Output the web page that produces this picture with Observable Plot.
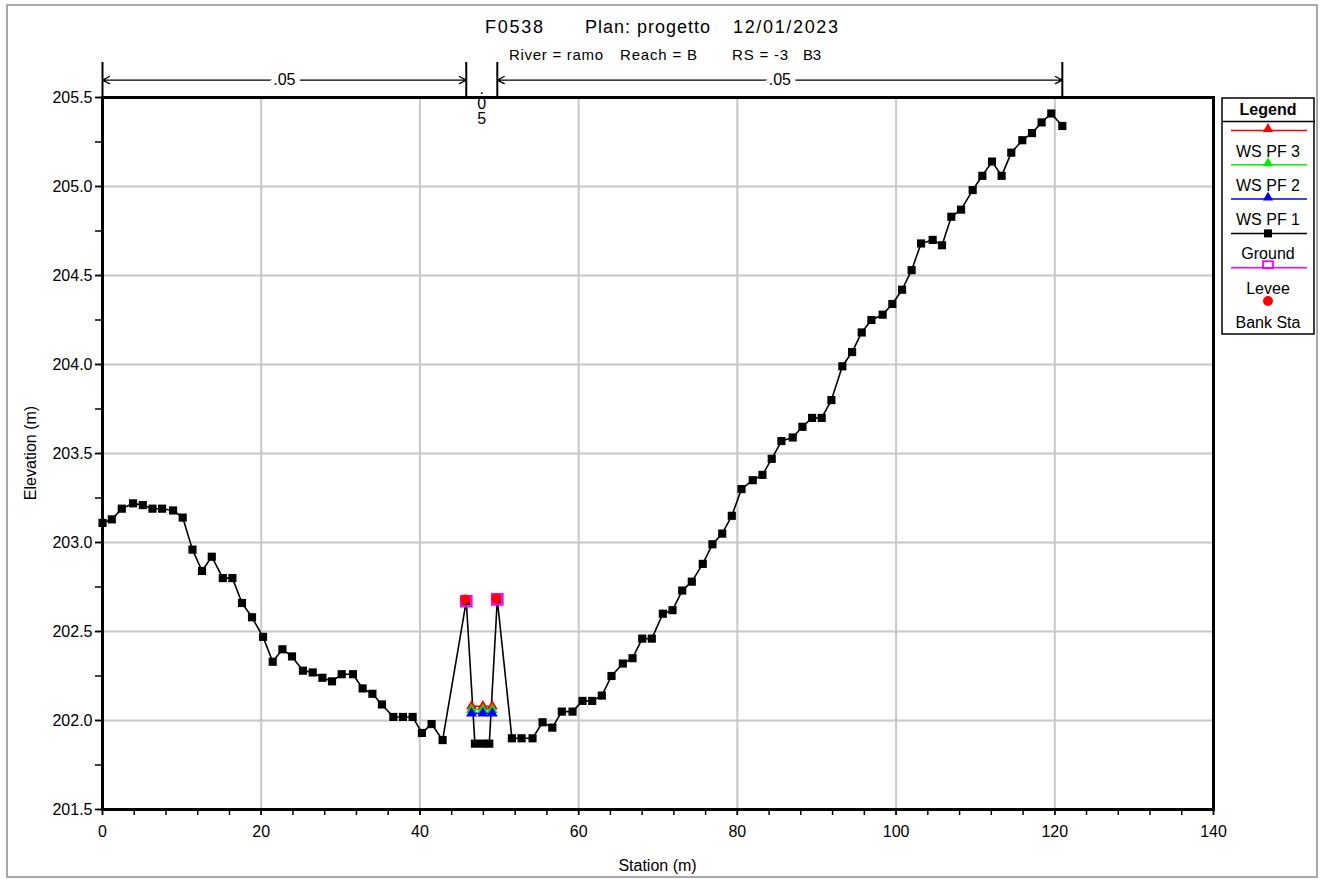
<!DOCTYPE html>
<html><head><meta charset="utf-8">
<script src="https://cdn.jsdelivr.net/npm/d3@7"></script>
<script src="https://cdn.jsdelivr.net/npm/@observablehq/plot@0.6"></script>
<style>
html,body{margin:0;padding:0;background:#fff;}
#wrap{position:relative;width:1324px;height:879px;overflow:hidden;}
#wrap > svg{position:absolute;left:0;top:0;}
</style></head><body><div id="wrap"></div>
<script>
// ---- data ----
const station = [0.0,1.17,2.43,3.85,5.08,6.30,7.51,8.89,10.11,11.34,
  12.54,13.77,15.16,16.37,17.58,18.84,20.23,21.45,22.67,23.88,
  25.26,26.49,27.71,28.92,30.14,31.56,32.78,34.01,35.21,36.65,
  37.86,39.08,40.25,41.47,42.86,45.84,46.93,47.93,48.74,49.75,
  51.59,52.81,54.19,55.45,56.68,57.88,59.23,60.49,61.71,62.92,
  64.14,65.57,66.79,68.01,69.22,70.61,71.83,73.05,74.26,75.64,
  76.86,78.09,79.30,80.52,81.94,83.16,84.33,85.55,86.98,88.20,
  89.42,90.63,91.85,93.23,94.46,95.67,96.89,98.31,99.53,100.76,
  101.96,103.15,104.61,105.79,106.96,108.19,109.65,110.87,112.09,113.30,
  114.52,115.91,117.13,118.34,119.56,120.95];
const elevation = [203.11,203.13,203.19,203.22,203.21,203.19,203.19,203.18,203.14,202.96,
  202.84,202.92,202.80,202.80,202.66,202.58,202.47,202.33,202.40,202.36,
  202.28,202.27,202.24,202.22,202.26,202.26,202.18,202.15,202.09,202.02,
  202.02,202.02,201.93,201.98,201.89,202.67,201.87,201.87,201.87,202.68,
  201.90,201.90,201.90,201.99,201.96,202.05,202.05,202.11,202.11,202.14,
  202.25,202.32,202.35,202.46,202.46,202.60,202.62,202.73,202.78,202.88,
  202.99,203.05,203.15,203.30,203.35,203.38,203.47,203.57,203.59,203.65,
  203.70,203.70,203.80,203.99,204.07,204.18,204.25,204.28,204.34,204.42,
  204.53,204.68,204.70,204.67,204.83,204.87,204.98,205.06,205.14,205.06,
  205.19,205.26,205.30,205.36,205.41,205.34];
const profiles = ["WS PF 3", "WS PF 2", "WS PF 1"];
const profileElev = [202.08, 202.06, 202.04];
const wsStation = [46.5, 47.93, 49.12];
const leveeStation = [45.84, 49.75];
const leveeElev = [202.67, 202.68];
const bankStation = [45.84, 49.75];
const bankElev = [202.68, 202.685];
const nValues = [".05", ".05", ".05"];
const nBreaks = [0, 45.84, 49.75, 120.95];
const xTicks = [0, 20, 40, 60, 80, 100, 120, 140];
const xMinor = d3.range(0, 141, 4);
const yTicks = [201.5, 202.0, 202.5, 203.0, 203.5, 204.0, 204.5, 205.0, 205.5];
const yMinor = d3.range(201.5, 205.51, 0.25);
const legendItems = ["WS PF 3", "WS PF 2", "WS PF 1", "Ground", "Levee", "Bank Sta"];

// ---- styling ----
const FONT = "'Liberation Sans', Arial, Helvetica, sans-serif";
const profileColor = {"WS PF 3": "#ff0000", "WS PF 2": "#00ee00", "WS PF 1": "#0000ff"};
const W = 1324, H = 879, ML = 102, MR = 111, MT = 97, MB = 70;

const ground = station.map((x, i) => ({x, y: elevation[i]}));
const levee = leveeStation.map((x, i) => ({x, y: leveeElev[i]}));
const bank = bankStation.map((x, i) => ({x, y: bankElev[i]}));

// n-value annotation rows (above the frame, same x scale)
const nY = 205.598, barTop = 205.697, barBottom = 205.5;
const pxPerUnit = (W - ML - MR) / 140;
const nSeg = nValues.map((n, i) => ({n, x1: nBreaks[i], x2: nBreaks[i + 1], mid: (nBreaks[i] + nBreaks[i + 1]) / 2, wide: (nBreaks[i + 1] - nBreaks[i]) * pxPerUnit > 40}));
const arrows = nSeg.filter(d => d.wide).flatMap(d => [
  {xa: d.mid, xb: d.x1, y: nY}, {xa: d.mid, xb: d.x2, y: nY}
]);
const bars = nBreaks.map(x => ({x, y1: barBottom, y2: barTop}));
const nLabelsWide = nSeg.filter(d => d.wide).map(d => ({x: d.mid, y: nY, t: d.n}));
const nLabelsNarrow = nSeg.filter(d => !d.wide).map(d => ({x: d.mid, y: 205.462, t: d.n.split("").join("\n")}));

const wsMarks = profiles.flatMap((p, i) => {
  const pts = wsStation.map(x => ({x, y: profileElev[i]}));
  return [
    Plot.line(pts, {x: "x", y: "y", stroke: profileColor[p], strokeWidth: 1.5}),
    Plot.dot(pts, {x: "x", y: "y", symbol: "triangle", fill: profileColor[p], r: 4.1})
  ];
});

const chart = Plot.plot({
  width: W, height: H,
  marginLeft: ML, marginRight: MR, marginTop: MT, marginBottom: MB,
  x: {domain: [0, 140]},
  y: {domain: [201.5, 205.5]},
  style: {fontFamily: FONT, fontSize: "16px", color: "black", background: "transparent", overflow: "visible"},
  marks: [
    Plot.gridX(xTicks.slice(1, -1), {stroke: "#c8c8c8", strokeOpacity: 1, strokeWidth: 2}),
    Plot.gridY(yTicks.slice(1, -1), {stroke: "#c8c8c8", strokeOpacity: 1, strokeWidth: 2}),
    Plot.axisX(xMinor, {tickSize: 6, tickFormat: () => "", label: null, strokeWidth: 1.5}),
    Plot.axisX(xTicks, {tickSize: 6, tickPadding: 10, tickFormat: d => String(d), label: null, strokeWidth: 1.5, fontSize: 16}),
    Plot.axisY(yMinor, {tickSize: 7, tickFormat: () => "", label: null, strokeWidth: 1.5}),
    Plot.axisY(yTicks, {tickSize: 7, tickPadding: 3, tickFormat: d => d.toFixed(1), label: null, strokeWidth: 1.5, fontSize: 16}),
    Plot.line(ground, {x: "x", y: "y", stroke: "black", strokeWidth: 1.6}),
    ...wsMarks,
    Plot.dot(ground, {x: "x", y: "y", symbol: "square", fill: "black", r: 4.6}),
    Plot.dot(levee, {x: "x", y: "y", symbol: "square", stroke: "#ff00ff", fill: "none", r: 5.8, strokeWidth: 2.4}),
    Plot.dot(bank, {x: "x", y: "y", dx: -1, fill: "#ff0000", r: 5}),
    Plot.frame({stroke: "black", strokeWidth: 3}),
    Plot.arrow(arrows, {x1: "xa", x2: "xb", y1: "y", y2: "y", stroke: "black", strokeWidth: 1.3, headLength: 9, headAngle: 55}),
    Plot.ruleX(bars, {x: "x", y1: "y1", y2: "y2", stroke: "black", strokeWidth: 2}),
    Plot.text(nLabelsWide, {x: "x", y: "y", text: "t", fill: "black", stroke: "white", strokeWidth: 10, fontSize: 16}),
    Plot.text(nLabelsNarrow, {x: "x", y: "y", text: "t", fill: "black", fontSize: 16, lineHeight: 0.92})
  ]
});
document.getElementById("wrap").appendChild(chart);

// ---- overlay: border, titles, axis labels, legend ----
const ov = d3.select("#wrap").append("svg").attr("width", W).attr("height", H)
  .style("font-family", FONT).style("pointer-events", "none");
ov.append("rect").attr("x", 7).attr("y", 5).attr("width", 1310).attr("height", 872)
  .attr("fill", "none").attr("stroke", "#8c8c8c").attr("stroke-width", 1.5);

const titleParts = [
  {t: "F0538", x: 485, len: 58}, {t: "Plan: progetto", x: 585, len: 125}, {t: "12/01/2023", x: 733, len: 105}
];
const subParts = [
  {t: "River = ramo", x: 509, len: 94}, {t: "Reach = B", x: 620, len: 77}, {t: "RS = -3", x: 732, len: 56}, {t: "B3", x: 803, len: 18}
];
ov.selectAll("text.title").data(titleParts).join("text").attr("class", "title")
  .attr("x", d => d.x).attr("y", 33).attr("font-size", 18)
  .attr("textLength", d => d.len).attr("lengthAdjust", "spacing").text(d => d.t);
ov.selectAll("text.sub").data(subParts).join("text").attr("class", "sub")
  .attr("x", d => d.x).attr("y", 60).attr("font-size", 15)
  .attr("textLength", d => d.len).attr("lengthAdjust", "spacing").text(d => d.t);

ov.append("text").attr("x", (ML + W - MR) / 2).attr("y", 871).attr("text-anchor", "middle")
  .attr("font-size", 16).text("Station (m)");
ov.append("text").attr("transform", `translate(36,${(MT + H - MB) / 2}) rotate(-90)`)
  .attr("text-anchor", "middle").attr("font-size", 16).text("Elevation (m)");

// legend
const lg = ov.append("g");
const LX0 = 1222, LX1 = 1314, LCX = 1268;
lg.append("rect").attr("x", LX0).attr("y", 98).attr("width", LX1 - LX0).attr("height", 236)
  .attr("fill", "white").attr("stroke", "black").attr("stroke-width", 1.5);
lg.append("text").attr("x", LCX).attr("y", 115).attr("text-anchor", "middle")
  .attr("font-size", 16).attr("font-weight", "bold").text("Legend");
lg.append("line").attr("x1", LX0).attr("x2", LX1 + 1).attr("y1", 121.5).attr("y2", 121.5)
  .attr("stroke", "black").attr("stroke-width", 1.5);
const legendStyle = {
  "WS PF 3": {color: "#ff0000", sym: "tri"}, "WS PF 2": {color: "#00ee00", sym: "tri"},
  "WS PF 1": {color: "#0000ff", sym: "tri"}, "Ground": {color: "black", sym: "sq"},
  "Levee": {color: "#ff00ff", sym: "open"}, "Bank Sta": {color: "#ff0000", sym: "circle"}
};
legendItems.forEach((name, i) => {
  const st = legendStyle[name];
  const y = 130.5 + i * 34.3;
  if (st.sym !== "circle") {
    lg.append("line").attr("x1", 1231).attr("x2", 1307).attr("y1", y).attr("y2", y)
      .attr("stroke", st.color).attr("stroke-width", 1.5);
  }
  if (st.sym === "tri") {
    lg.append("path").attr("d", d3.symbol(d3.symbolTriangle, Math.PI * 3.8 * 3.8)())
      .attr("transform", `translate(${LCX},${y - 1.5})`).attr("fill", st.color);
  } else if (st.sym === "sq") {
    lg.append("rect").attr("x", LCX - 4).attr("y", y - 4).attr("width", 8).attr("height", 8).attr("fill", "black");
  } else if (st.sym === "open") {
    lg.append("rect").attr("x", LCX - 5).attr("y", y - 6.5).attr("width", 10).attr("height", 7)
      .attr("fill", "none").attr("stroke", st.color).attr("stroke-width", 1.8);
  } else {
    lg.append("circle").attr("cx", LCX).attr("cy", y - 1).attr("r", 5).attr("fill", st.color);
  }
  lg.append("text").attr("x", LCX).attr("y", y + 26).attr("text-anchor", "middle")
    .attr("font-size", 16).text(name);
});
</script>
</body></html>
